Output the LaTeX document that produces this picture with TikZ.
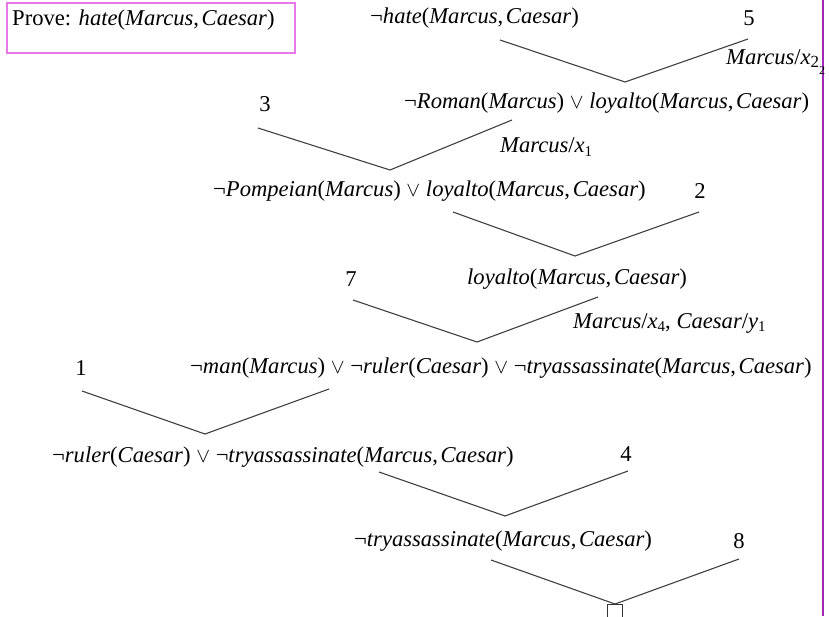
\documentclass[tikz,border=0pt]{standalone}
\usepackage{fontspec}
\setmainfont{Liberation Serif}
\definecolor{boxpink}{RGB}{232,120,232}
\definecolor{edgepurple}{RGB}{160,40,180}
\newcommand\mcArgs{(\textit{Marcus},\hspace{0.12em}\textit{Caesar})}
\newcommand\orSym{\ $\vee$\ }
\newcommand\subNum[1]{\raisebox{-0.35ex}{\fontsize{15}{17}\selectfont #1}}
\begin{document}
\begin{tikzpicture}[x=1pt,y=-1pt,
  every node/.style={inner sep=0pt, font=\fontsize{22.6}{27}\selectfont},
  clause/.style={anchor=west},
  num/.style={anchor=center},
  subst/.style={anchor=west},
  res/.style={draw=black!75, line width=1.1pt}]
\useasboundingbox (0,0) rectangle (829,616);
% frame pieces
\node (provebox) [draw=boxpink, line width=1.3pt, minimum width=288pt, minimum height=50pt] at (151,28) {};
\node (prove) [anchor=west] at (12,20) {Prove: \textit{hate}\mcArgs};
\coordinate (edgetop) at (823,0);
\coordinate (edgebot) at (823,616);
\draw[edgepurple, line width=1.2pt] (edgetop) -- (edgebot);
% clauses
\node (c1) [clause] at (370,18) {¬\textit{hate}\mcArgs};
\node (n5) [num] at (749,18) {5};
\node (s1) [subst] at (726,62) {\textit{Marcus}/\textit{x}\raisebox{-0.3ex}{\fontsize{17}{19}\selectfont 2}\raisebox{-0.9ex}{\fontsize{12}{14}\selectfont 2}};
\node (c2) [clause] at (404,103) {¬\textit{Roman}(\textit{Marcus})\orSym\textit{loyalto}\mcArgs};
\node (n3) [num] at (265,104) {3};
\node (s2) [subst] at (500,147) {\textit{Marcus}/\textit{x}\subNum{1}};
\node (c3) [clause] at (213,191) {¬\textit{Pompeian}(\textit{Marcus})\orSym\textit{loyalto}\mcArgs};
\node (n2) [num] at (700,191) {2};
\node (c4) [clause] at (467,279) {\textit{loyalto}\mcArgs};
\node (n7) [num] at (351,279) {7};
\node (s4) [subst] at (573,323) {\textit{Marcus}/\textit{x}\subNum{4}, \textit{Caesar}/\textit{y}\subNum{1}};
\node (c5) [clause] at (190,368) {¬\textit{man}(\textit{Marcus})\orSym¬\textit{ruler}(\textit{Caesar})\orSym¬\textit{tryassassinate}\mcArgs};
\node (n1) [num] at (81,368) {1};
\node (c6) [clause] at (52,457) {¬\textit{ruler}(\textit{Caesar})\orSym¬\textit{tryassassinate}\mcArgs};
\node (n4) [num] at (626,454) {4};
\node (c7) [clause] at (354,541) {¬\textit{tryassassinate}\mcArgs};
\node (n8) [num] at (739,541) {8};
\node (empty) [draw=black!80, line width=1pt, minimum size=15pt, anchor=north] at (615,604) {};
% resolution wedges
\coordinate (v1l) at (500,40);  \coordinate (v1b) at (625,82);  \coordinate (v1r) at (748,39);
\coordinate (v2l) at (258,128); \coordinate (v2b) at (390,170); \coordinate (v2r) at (512,120);
\coordinate (v3l) at (453,212); \coordinate (v3b) at (575,256); \coordinate (v3r) at (699,212);
\coordinate (v4l) at (353,300); \coordinate (v4b) at (477,342); \coordinate (v4r) at (598,297);
\coordinate (v5l) at (82,391);  \coordinate (v5b) at (205,434); \coordinate (v5r) at (329,389);
\coordinate (v6l) at (379,472); \coordinate (v6b) at (505,516); \coordinate (v6r) at (628,471);
\coordinate (v7l) at (491,560); \coordinate (v7r) at (739,559);
\draw[res] (v1l) -- (v1b) -- (v1r);
\draw[res] (v2l) -- (v2b) -- (v2r);
\draw[res] (v3l) -- (v3b) -- (v3r);
\draw[res] (v4l) -- (v4b) -- (v4r);
\draw[res] (v5l) -- (v5b) -- (v5r);
\draw[res] (v6l) -- (v6b) -- (v6r);
\draw[res] (v7l) -- (empty.north) -- (v7r);
\end{tikzpicture}
\end{document}
